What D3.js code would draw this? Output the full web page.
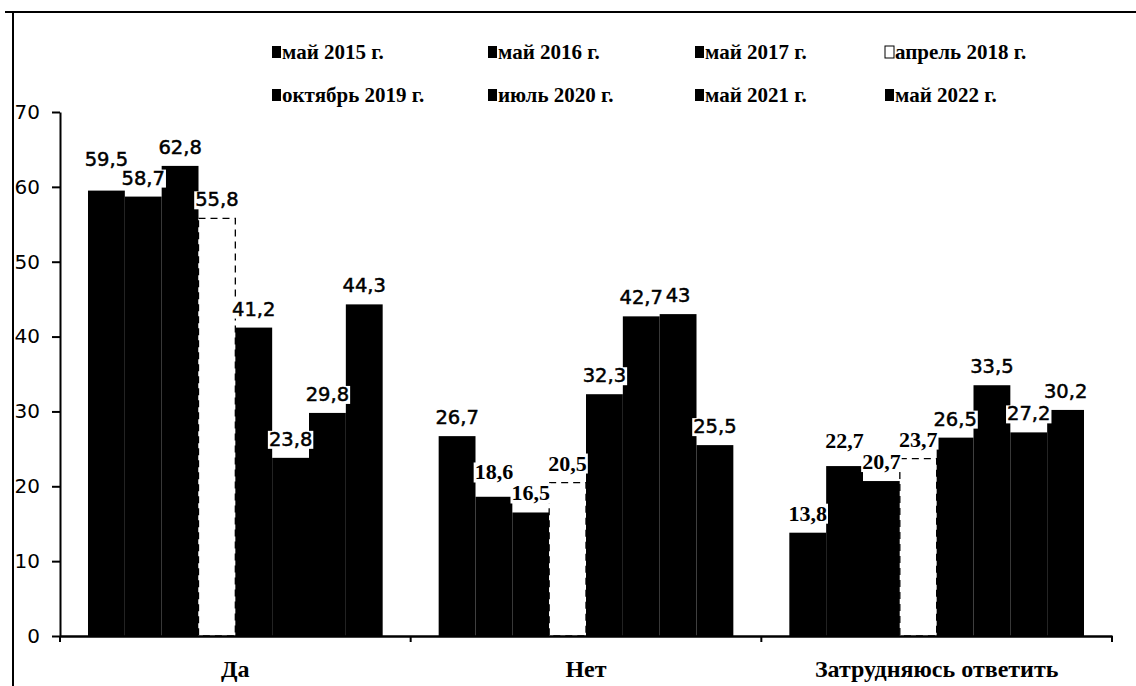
<!DOCTYPE html>
<html>
<head>
<meta charset="utf-8">
<script src="https://cdn.jsdelivr.net/npm/d3@7"></script>
<style>
  body { margin: 0; background: #fff; }
  svg { display: block; }
</style>
</head>
<body>
<svg id="canvas"></svg>
<script>
var w = 1136;
var h = 686;

// data
var categories = ['Да', 'Нет', 'Затрудняюсь ответить'];
var seriesNames = ['май 2015 г.', 'май 2016 г.', 'май 2017 г.', 'апрель 2018 г.',
                   'октябрь 2019 г.', 'июль 2020 г.', 'май 2021 г.', 'май 2022 г.'];
var valuesDa   = [59.5, 58.7, 62.8, 55.8, 41.2, 23.8, 29.8, 44.3];
var valuesNet  = [26.7, 18.6, 16.5, 20.5, 32.3, 42.7, 43, 25.5];
var valuesZatr = [13.8, 22.7, 20.7, 23.7, 26.5, 33.5, 27.2, 30.2];
var yTicks = [0, 10, 20, 30, 40, 50, 60, 70];

var allValues = [valuesDa, valuesNet, valuesZatr];
var outlined = 'апрель 2018 г.';
// labels that were typeset in a serif face in the scan
var serifLabels = ['Нет|май 2016 г.', 'Нет|май 2017 г.', 'Нет|апрель 2018 г.',
                   'Затрудняюсь ответить|май 2015 г.', 'Затрудняюсь ответить|май 2016 г.',
                   'Затрудняюсь ответить|май 2017 г.', 'Затрудняюсь ответить|апрель 2018 г.'];

var rows = [];
categories.forEach(function(c, ci){
  seriesNames.forEach(function(s, si){
    rows.push({cat: c, series: s, value: allValues[ci][si]});
  });
});

var svg = d3.select('#canvas')
  .attr('width', w)
  .attr('height', h)
  .attr('viewBox', [0, 0, w, h]);

// frame of the scanned figure
svg.append('line').attr('x1', 5).attr('x2', w).attr('y1', 12).attr('y2', 12)
  .style('stroke', '#000').style('stroke-width', 2);
svg.append('line').attr('x1', 13).attr('x2', 13).attr('y1', 12).attr('y2', h)
  .style('stroke', '#000').style('stroke-width', 2);

var plotL = 60, plotR = 1112, plotT = 112, plotB = 636;

var x0 = d3.scaleBand().domain(categories).range([plotL, plotR]).padding(0);
var x1 = d3.scaleBand().domain(seriesNames).range([0, x0.bandwidth()])
  .paddingInner(0).paddingOuter(0.76);
var y = d3.scaleLinear().domain([0, 70]).range([plotB, plotT]);

// bars
svg.append('g').selectAll('rect')
  .data(rows)
  .enter()
  .append('rect')
  .attr('x', d => x0(d.cat) + x1(d.series))
  .attr('y', d => y(d.value))
  .attr('width', x1.bandwidth())
  .attr('height', d => y(0) - y(d.value))
  .style('fill', d => d.series == outlined ? '#fff' : '#000')
  .style('stroke', d => d.series == outlined ? '#000' : 'none')
  .style('stroke-width', 1.3)
  .style('stroke-dasharray', d => d.series == outlined ? '7,5' : null);

// y axis
var yAxis = svg.append('g')
  .attr('transform', 'translate(' + plotL + ',0)')
  .call(d3.axisLeft(y).tickValues(yTicks).tickSize(8).tickPadding(12).tickSizeOuter(0));
yAxis.select('.domain').style('stroke-width', 2);
yAxis.selectAll('.tick line').style('stroke-width', 2);
yAxis.selectAll('text')
  .style('font-family', '"DejaVu Sans", Verdana, sans-serif')
  .style('font-size', '20px')
  .style('fill', '#000');

// x axis
var xAxis = svg.append('g')
  .attr('transform', 'translate(0,' + plotB + ')')
  .call(d3.axisBottom(x0).tickSize(0).tickPadding(24));
xAxis.select('.domain').style('stroke-width', 2.5);
xAxis.selectAll('text')
  .style('font-family', '"Liberation Serif", "Times New Roman", serif')
  .style('font-weight', 'bold')
  .style('font-size', '24px')
  .style('fill', '#000');
// boundary ticks between categories
var bounds = categories.map(c => x0(c)).concat([x0(categories[categories.length-1]) + x0.bandwidth()]);
xAxis.selectAll('.bound')
  .data(bounds)
  .enter()
  .append('line')
  .attr('class', 'bound')
  .attr('x1', d => d).attr('x2', d => d)
  .attr('y1', 0).attr('y2', 6)
  .style('stroke', '#000').style('stroke-width', 2);

// value labels
var fmt = v => String(v).replace('.', ',');
var isSerif = d => serifLabels.indexOf(d.cat + '|' + d.series) >= 0;
rows.forEach(d => { d.lx = x0(d.cat) + x1(d.series) + x1.bandwidth()/2; d.ly = y(d.value) - 12; });
var labels = svg.append('g').selectAll('g')
  .data(rows)
  .enter()
  .append('g')
  .attr('transform', d => 'translate(' + d.lx + ',' + d.ly + ')');
labels.append('text')
  .attr('text-anchor', 'middle')
  .style('font-family', d => isSerif(d) ? '"Liberation Serif", "Times New Roman", serif' : '"DejaVu Sans", Verdana, sans-serif')
  .style('font-weight', d => isSerif(d) ? 'bold' : 'normal')
  .style('font-size', d => isSerif(d) ? '22px' : '19.5px')
  .style('fill', '#000')
  .style('stroke', '#000')
  .style('stroke-width', d => isSerif(d) ? 0 : 0.5)
  .text(d => fmt(d.value));
labels.each(function(d){ d.bb = d3.select(this).select('text').node().getBBox(); });

// lift a label when it runs into its right-hand neighbour
for (var i = rows.length - 2; i >= 0; i--) {
  var a = rows[i], b = rows[i + 1];
  if (a.cat != b.cat) continue;
  var hOver = (a.lx + a.bb.x + a.bb.width) > (b.lx + b.bb.x);
  var aTop = a.ly + a.bb.y + 3, aBot = a.ly + a.bb.y + a.bb.height - 2;
  var bTop = b.ly + b.bb.y + 3, bBot = b.ly + b.bb.y + b.bb.height - 2;
  if (hOver && aBot > bTop && aTop < bBot) a.ly -= (aBot - bTop) + 1;
}
labels.attr('transform', d => 'translate(' + d.lx + ',' + d.ly + ')');

// white box behind every label, like the scanned label boxes
labels.each(function(d){
  d3.select(this).insert('rect', 'text')
    .attr('x', d.bb.x - 1).attr('y', d.bb.y + 3)
    .attr('width', d.bb.width + 2).attr('height', d.bb.height - 5)
    .style('fill', '#fff');
});

// legend, 4 columns x 2 rows
var legendCols = [272, 488, 695, 885];
var legendRows = [52, 95];
var legend = svg.append('g').selectAll('g')
  .data(seriesNames)
  .enter()
  .append('g')
  .attr('transform', (d, i) => 'translate(' + legendCols[i % 4] + ',' + legendRows[Math.floor(i / 4)] + ')');
legend.append('rect')
  .attr('x', 0).attr('y', -6)
  .attr('width', 9).attr('height', 12)
  .style('fill', d => d == outlined ? '#fff' : '#000')
  .style('stroke', d => d == outlined ? '#000' : 'none')
  .style('stroke-width', 1);
legend.append('text')
  .attr('x', 10)
  .attr('dy', '0.35em')
  .style('font-family', '"Liberation Serif", "Times New Roman", serif')
  .style('font-weight', 'bold')
  .style('font-size', '21px')
  .style('fill', '#000')
  .text(d => d);
</script>
</body>
</html>
